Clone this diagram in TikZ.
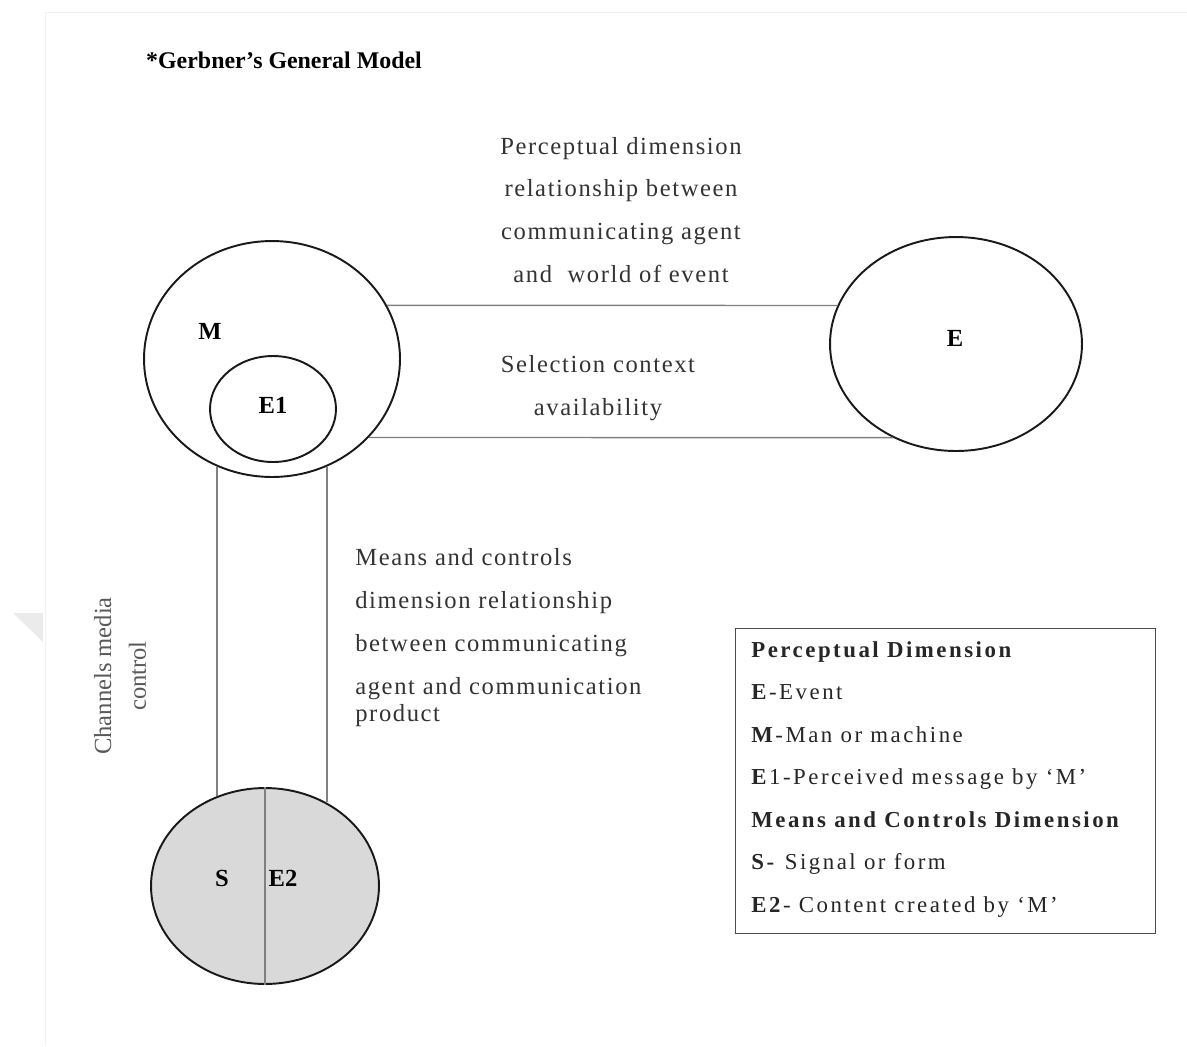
\documentclass[tikz,border=0pt]{standalone}
\usepackage{fontspec}
\setmainfont{Liberation Serif}
\newfontfamily\spacedfont[LetterSpace=6.5]{Liberation Serif}
\newfontfamily\legendfont[LetterSpace=11]{Liberation Serif}
\usetikzlibrary{shapes.geometric}
\definecolor{inkgray}{HTML}{333333}
\definecolor{linegray}{HTML}{808080}
\definecolor{fillgray}{HTML}{D9D9D9}
\tikzset{
  agent/.style={ellipse, draw=black!90, line width=1.1pt},
  link/.style={draw=linegray, line width=0.8pt},
  tag/.style={font=\fontsize{14}{16}\selectfont\bfseries},
  dimtext/.style={text=inkgray, inner sep=0pt, font=\spacedfont\fontsize{14}{24.4}\selectfont}
}
\begin{document}
\begin{tikzpicture}[x=0.02cm, y=-0.02cm]
  \useasboundingbox (0,0) rectangle (1187,1046);
  % faint page edge and mark
  \draw[black!5] (45,1046) -- (45,12) -- (1187,12);
  \fill[black!8] (13,613) -- (43,613) -- (43,642) -- cycle;

  \node[anchor=west, font=\fontsize{13.6}{16}\selectfont\bfseries] (title) at (140,60) {*Gerbner’s General Model};

  % agents and events
  \node[agent, minimum width=5.12cm, minimum height=4.72cm] (M) at (272,359) {};
  \node[agent, minimum width=2.52cm, minimum height=2.12cm] (E1) at (273,409) {};
  \node[agent, minimum width=5.04cm, minimum height=4.28cm] (E) at (956,344) {};
  \node[agent, fill=fillgray, minimum width=4.56cm, minimum height=3.92cm] (P) at (265,886) {};
  \draw[link] (P.north) -- (P.south);

  \node[tag] (Mtag) at (210,331) {M};
  \node[tag] (E1tag) at (273,405) {E1};
  \node[tag] (Etag) at (955,338) {E};
  \node[tag] (Stag) at (222,878) {S};
  \node[tag] (E2tag) at (283,878) {E2};

  % dimensions
  \draw[link] (M.25) -- (E.162);
  \draw[link] (M.-39) -- (E.-124);
  \draw[link] (M.-117) -- (M.-117 |- P.118);
  \draw[link] (M.-63) -- (M.-63 |- P.54);

  \node[dimtext, align=center] (percept) at (621,210) {Perceptual dimension\\relationship between\\communicating agent\\and\ \ world of event};
  \node[dimtext, align=center] (select) at (598,388) {Selection context\\availability};
  \node[dimtext, align=left, anchor=north west] (means) at (355,548) {Means and controls\\dimension relationship\\between communicating\\agent and communication\\[-9pt]product};
  \node[rotate=90, align=center, text=black!65, font=\fontsize{14}{19.8}\selectfont] (channels) at (120,676) {Channels media\\control};

  % key
  \node[draw=black!70, line width=0.8pt, minimum width=8.4cm, minimum height=6.1cm, anchor=north west] (key) at (735,628) {};
  \node[anchor=north west, align=left, inner sep=0pt, text=black!85, font=\legendfont\fontsize{13}{24.2}\selectfont] (keytext) at ([xshift=0.32cm, yshift=-0.26cm]key.north west) {\textbf{Perceptual Dimension}\\\textbf{E}-Event\\\textbf{M}-Man or machine\\\textbf{E}1-Perceived message by ‘M’\\\textbf{Means and Controls Dimension}\\\textbf{S-} Signal or form\\\textbf{E2}- Content created by ‘M’};
\end{tikzpicture}
\end{document}
